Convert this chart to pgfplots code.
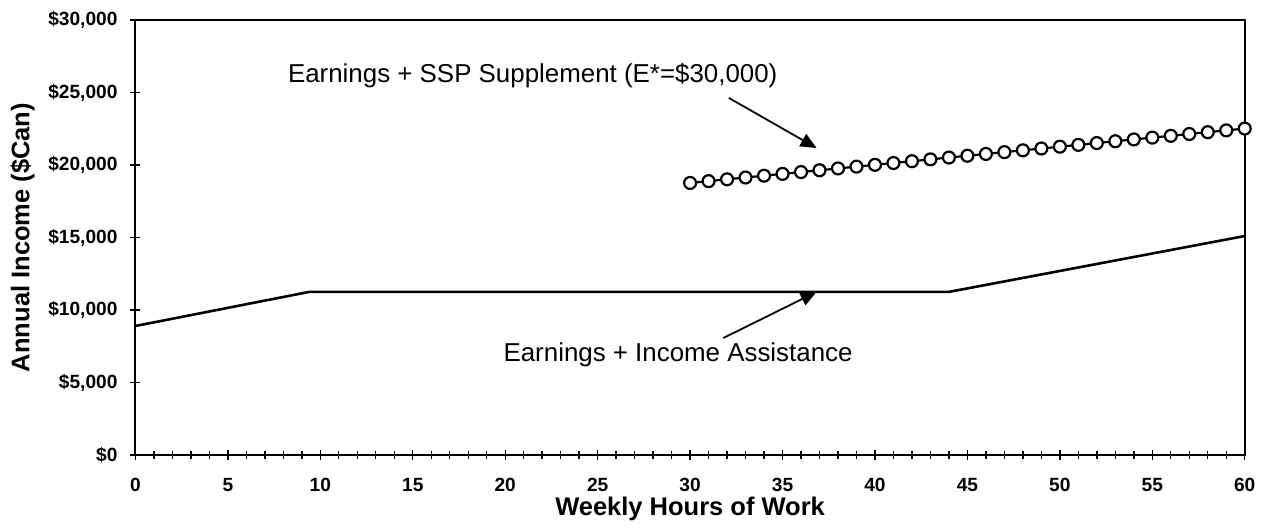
\documentclass[border=0pt]{standalone}
\usepackage{pgfplots}
\pgfplotsset{compat=1.18}
\usepackage{fontspec}
\setmainfont{Liberation Sans}
\usetikzlibrary{arrows.meta}
\begin{document}
\begin{tikzpicture}
\begin{axis}[
  name=ax,
  scale only axis,
  width=557pt, height=218.5pt,
  xmin=0, xmax=60, ymin=0, ymax=30000,
  scaled y ticks=false,
  xtick={0,5,...,60},
  xticklabels={0,5,10,15,20,25,30,35,40,45,50,55,60},
  minor x tick num=4,
  ytick={0,5000,10000,15000,20000,25000,30000},
  yticklabels={{\$0},{\$5,000},{\$10,000},{\$15,000},{\$20,000},{\$25,000},{\$30,000}},
  tick align=center,
  major tick length=5pt,
  minor tick length=4pt,
  tick style={black, line width=0.7pt},
  axis line style={line width=1pt},
  ticklabel style={font=\bfseries\fontsize{9.6}{11}\selectfont},
  xticklabel style={yshift=-5.5pt},
  yticklabel style={xshift=-3pt},
  /pgf/number format/assume math mode=true,
  xlabel={Weekly Hours of Work},
  ylabel={Annual Income (\$Can)},
  label style={font=\bfseries\fontsize{12.8}{14}\selectfont},
  xlabel style={at={(axis description cs:0.5,0)}, anchor=center, yshift=-27pt},
  ylabel style={yshift=0pt},
  xtick pos=bottom, ytick pos=left,
  clip=false,
]
\addplot[black, line width=1.3pt] coordinates {
  (0,8900) (9.4,11250) (44,11250) (60,15100)
};
\addplot[black, line width=1.1pt, mark=*, mark size=3pt, mark options={fill=white, draw=black, line width=1.1pt}] coordinates {
  (30,18760) (31,18885) (32,19010) (33,19135) (34,19260) (35,19385)
  (36,19510) (37,19635) (38,19760) (39,19885) (40,20010) (41,20135)
  (42,20260) (43,20385) (44,20510) (45,20635) (46,20760) (47,20885)
  (48,21010) (49,21135) (50,21260) (51,21385) (52,21510) (53,21635)
  (54,21760) (55,21885) (56,22010) (57,22135) (58,22260) (59,22385)
  (60,22510)
};
\node[font=\fontsize{13}{15}\selectfont] at (axis cs:21.49,26140) {Earnings + SSP Supplement (E*=\$30,000)};
\draw[-{Triangle[length=8pt,width=7pt]}, line width=0.9pt] (axis cs:32.1,24620) -- (axis cs:36.84,21170);
\node[font=\fontsize{13}{15}\selectfont] at (axis cs:29.35,6900) {Earnings + Income Assistance};
\draw[-{Triangle[length=8pt,width=7pt]}, line width=0.9pt] (axis cs:31.8,8070) -- (axis cs:36.84,11250);
\end{axis}
\path ([xshift=-68pt,yshift=10pt]ax.north west) rectangle ([xshift=6pt,yshift=-34pt]ax.south east);
\end{tikzpicture}
\end{document}
